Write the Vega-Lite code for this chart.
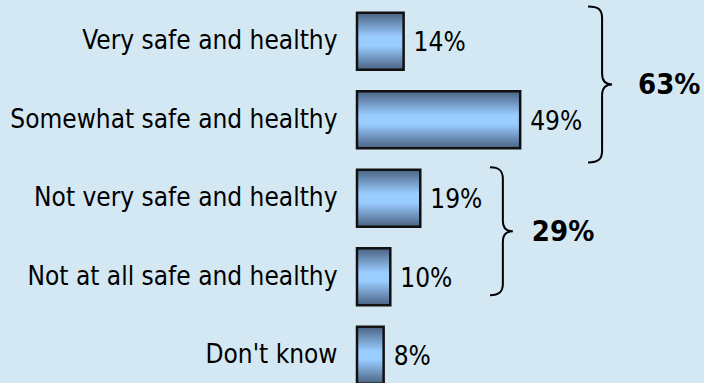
{
  "$schema": "https://vega.github.io/schema/vega-lite/v6.json",
  "autosize": {"type": "none"},
  "padding": {"left": 357, "top": 0, "right": 0, "bottom": 0},
  "width": 347,
  "height": 383,
  "background": "#d4e8f3",
  "config": {"view": {"stroke": null}, "font": "DejaVu Sans Condensed, DejaVu Sans"},
  "datasets": {
    "responses": [
      {"response": "Very safe and healthy", "pct": 0.14},
      {"response": "Somewhat safe and healthy", "pct": 0.49},
      {"response": "Not very safe and healthy", "pct": 0.19},
      {"response": "Not at all safe and healthy", "pct": 0.10},
      {"response": "Don't know", "pct": 0.08}
    ],
    "groups": [
      {"group": "safe", "total": 0.63, "pos": 1.05, "brace_x": 0.736, "label_x": 0.844},
      {"group": "unsafe", "total": 0.29, "pos": 2.92, "brace_x": 0.438, "label_x": 0.525}
    ]
  },
  "layer": [
    {
      "data": {"name": "responses"},
      "mark": {
        "type": "bar",
        "stroke": "#111111",
        "strokeWidth": 2.5,
        "fill": {
          "gradient": "linear", "x1": 0, "y1": 0, "x2": 0, "y2": 1,
          "stops": [
            {"offset": 0, "color": "#4a6282"},
            {"offset": 0.42, "color": "#99ccff"},
            {"offset": 0.58, "color": "#99ccff"},
            {"offset": 1, "color": "#4a6282"}
          ]
        }
      },
      "encoding": {
        "y": {
          "field": "response", "type": "nominal", "sort": null,
          "scale": {"range": [2, 394.5], "paddingInner": 0.274, "paddingOuter": 0.137},
          "axis": {"title": null, "domain": false, "ticks": false, "labelPadding": 20, "labelFontSize": 26, "labelColor": "#000000", "labelFont": "DejaVu Sans Condensed, DejaVu Sans", "labelLimit": 400}
        },
        "x": {"field": "pct", "type": "quantitative", "scale": {"domain": [0, 1], "range": [0, 333]}, "axis": null}
      }
    },
    {
      "data": {"name": "responses"},
      "mark": {"type": "text", "align": "left", "baseline": "middle", "dx": 10, "dy": 2, "fontSize": 26, "color": "#000000"},
      "encoding": {
        "y": {"field": "response", "type": "nominal", "sort": null, "scale": {"range": [2, 394.5], "paddingInner": 0.274, "paddingOuter": 0.137}, "axis": null},
        "x": {"field": "pct", "type": "quantitative", "scale": {"domain": [0, 1], "range": [0, 333]}, "axis": null},
        "text": {"field": "pct", "type": "quantitative", "format": ".0%"}
      }
    },
    {
      "data": {"name": "groups"},
      "transform": [{"filter": "datum.group === 'safe'"}],
      "mark": {
        "type": "point", "filled": false, "stroke": "#000000", "strokeWidth": 2, "opacity": 1,
        "shape": "M -0.18 -1 C -0.05 -1 0 -0.96 0 -0.85 L 0 -0.14 C 0 -0.04 0.05 0 0.128 0 C 0.05 0 0 0.04 0 0.14 L 0 0.85 C 0 0.96 -0.05 1 -0.18 1",
        "size": 24336
      },
      "encoding": {
        "y": {"field": "pos", "type": "quantitative", "scale": {"domain": [0, 5], "range": [2, 394.5]}, "axis": null},
        "x": {"field": "brace_x", "type": "quantitative", "scale": {"domain": [0, 1], "range": [0, 333]}, "axis": null}
      }
    },
    {
      "data": {"name": "groups"},
      "transform": [{"filter": "datum.group === 'unsafe'"}],
      "mark": {
        "type": "point", "filled": false, "stroke": "#000000", "strokeWidth": 2, "opacity": 1,
        "shape": "M -0.2 -1 C -0.06 -1 0 -0.95 0 -0.82 L 0 -0.16 C 0 -0.05 0.06 0 0.156 0 C 0.06 0 0 0.05 0 0.16 L 0 0.82 C 0 0.95 -0.06 1 -0.2 1",
        "size": 16384
      },
      "encoding": {
        "y": {"field": "pos", "type": "quantitative", "scale": {"domain": [0, 5], "range": [2, 394.5]}, "axis": null},
        "x": {"field": "brace_x", "type": "quantitative", "scale": {"domain": [0, 1], "range": [0, 333]}, "axis": null}
      }
    },
    {
      "data": {"name": "groups"},
      "mark": {"type": "text", "align": "left", "baseline": "middle", "fontSize": 29, "fontWeight": "bold", "color": "#000000", "dy": 1},
      "encoding": {
        "y": {"field": "pos", "type": "quantitative", "scale": {"domain": [0, 5], "range": [2, 394.5]}, "axis": null},
        "x": {"field": "label_x", "type": "quantitative", "scale": {"domain": [0, 1], "range": [0, 333]}, "axis": null},
        "text": {"field": "total", "type": "quantitative", "format": ".0%"}
      }
    }
  ],
  "resolve": {"scale": {"y": "independent"}}
}
